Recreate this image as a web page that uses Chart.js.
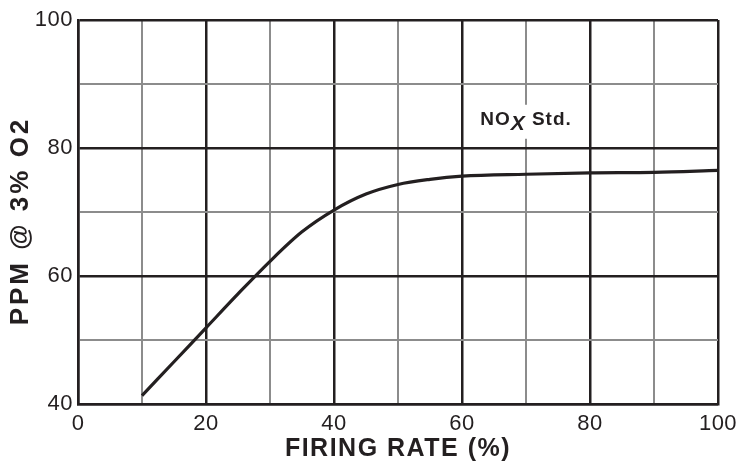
<!DOCTYPE html>
<html>
<head>
<meta charset="utf-8">
<script src="https://cdn.jsdelivr.net/npm/chart.js@4.4.1/dist/chart.umd.min.js"></script>
<style>
  html, body { margin: 0; padding: 0; background: #fff; }
  #wrap { width: 738px; height: 468px; }
</style>
</head>
<body>
<div id="wrap"><canvas id="noxChart" width="738" height="468"></canvas></div>
<script>
// firing rate (%) and NOx ppm
const firingRate = [10, 15, 20, 25, 30, 35, 40, 45, 50, 55, 60, 70, 80, 90, 100];
const ppmNox     = [41.3, 46.6, 51.9, 57.2, 62.3, 66.9, 70.3, 72.8, 74.3, 75.1, 75.6, 75.9, 76.1, 76.2, 76.5];

const xTicks = [0, 20, 40, 60, 80, 100];
const yTicks = [40, 60, 80, 100];

const noteMain = 'NO';
const noteSub = 'X';
const noteTail = ' Std.';
const notePos = { x: 70, y: 84.1 };

const ink = '#231f20';
const gray = '#8c8c8c';
const fontFam = '"Liberation Sans", Arial, sans-serif';

const gridColor = ctx => (ctx.tick && ctx.tick.value % 20 === 0) ? ink : gray;
const gridWidth = ctx => (ctx.tick && ctx.tick.value % 20 === 0) ? 2.5 : 2;

// the original lettering is a bit wider than Arial, titles even more so;
// the y title also sits a little below the middle of the plot
const titleSpacing = { x: '1.5px', y: '3px' };
const titleNudge = { x: 0, y: 9 };
const spacingPlugin = {
    id: 'spacing',
    beforeDraw(chart) {
        chart.ctx.letterSpacing = '0.5px';
        ['x', 'y'].forEach(id => {
            const s = chart.scales[id];
            if (s._spaced) return;
            const orig = s.drawTitle;
            s.drawTitle = function () {
                const c = this.ctx;
                c.save();
                c.letterSpacing = titleSpacing[id];
                c.translate(0, titleNudge[id]);
                orig.apply(this, arguments);
                c.restore();
            };
            s._spaced = true;
        });
    }
};

// label "NOx Std." on a white patch
const notePlugin = {
    id: 'noteLabel',
    afterDatasetsDraw(chart) {
        const c = chart.ctx;
        const px = chart.scales.x.getPixelForValue(notePos.x);
        const py = chart.scales.y.getPixelForValue(notePos.y);
        c.save();
        c.letterSpacing = '1px';
        const fMain = 'bold 19px ' + fontFam;
        const fSub = 'italic bold 21px ' + fontFam;
        c.font = fMain;
        const w1 = c.measureText(noteMain).width;
        const w3 = c.measureText(noteTail).width;
        c.font = fSub;
        const w2 = c.measureText(noteSub).width;
        const total = w1 + w2 + w3;
        let left = px - total / 2;
        c.fillStyle = '#fff';
        c.fillRect(left - 2, py - 17, total + 4, 34);
        c.fillStyle = ink;
        c.textBaseline = 'alphabetic';
        c.textAlign = 'left';
        c.font = fMain;
        c.fillText(noteMain, left, py + 3);
        c.font = fSub;
        c.fillText(noteSub, left + w1, py + 8);
        c.font = fMain;
        c.fillText(noteTail, left + w1 + w2, py + 3);
        c.restore();
    }
};

const ctx = document.querySelector('#noxChart').getContext('2d');
new Chart(ctx, {
    type: 'line',
    data: {
        datasets: [{
            data: firingRate.map((x, i) => ({ x: x, y: ppmNox[i] })),
            borderColor: ink,
            borderWidth: 3.2,
            pointRadius: 0,
            fill: false,
            cubicInterpolationMode: 'monotone',
        }],
    },
    options: {
        responsive: false,
        animation: false,
        events: [],
        layout: { padding: { top: 20, right: 20, left: 0, bottom: 0 } },
        plugins: {
            legend: { display: false },
            tooltip: { enabled: false },
        },
        scales: {
            x: {
                type: 'linear',
                min: 0,
                max: 100,
                afterFit: s => { s.height = 64; s.paddingLeft = 0; s.paddingRight = 0; },
                ticks: {
                    stepSize: 10,
                    autoSkip: false,
                    maxRotation: 0,
                    padding: 7,
                    color: ink,
                    font: { family: fontFam, size: 22 },
                    callback: v => xTicks.includes(v) ? String(v) : '',
                },
                grid: { color: gridColor, lineWidth: gridWidth, drawTicks: false },
                border: { display: true, color: ink, width: 2.5 },
                title: {
                    display: true,
                    text: 'FIRING RATE (%)',
                    color: ink,
                    padding: { top: 0, bottom: 4 },
                    font: { family: fontFam, size: 25, weight: 'bold' },
                },
            },
            y: {
                min: 40,
                max: 100,
                afterFit: s => { s.width = 78; s.paddingTop = 0; s.paddingBottom = 0; },
                ticks: {
                    stepSize: 10,
                    autoSkip: false,
                    padding: 5,
                    color: ink,
                    font: { family: fontFam, size: 22 },
                    callback: v => yTicks.includes(v) ? String(v) : '',
                },
                grid: { color: gridColor, lineWidth: gridWidth, drawTicks: false },
                border: { display: true, color: ink, width: 2.5 },
                title: {
                    display: true,
                    text: 'PPM @ 3% O2',
                    color: ink,
                    padding: { top: 5, bottom: 0 },
                    font: { family: fontFam, size: 26, weight: 'bold' },
                },
            },
        },
    },
    plugins: [spacingPlugin, notePlugin],
});
</script>
</body>
</html>
